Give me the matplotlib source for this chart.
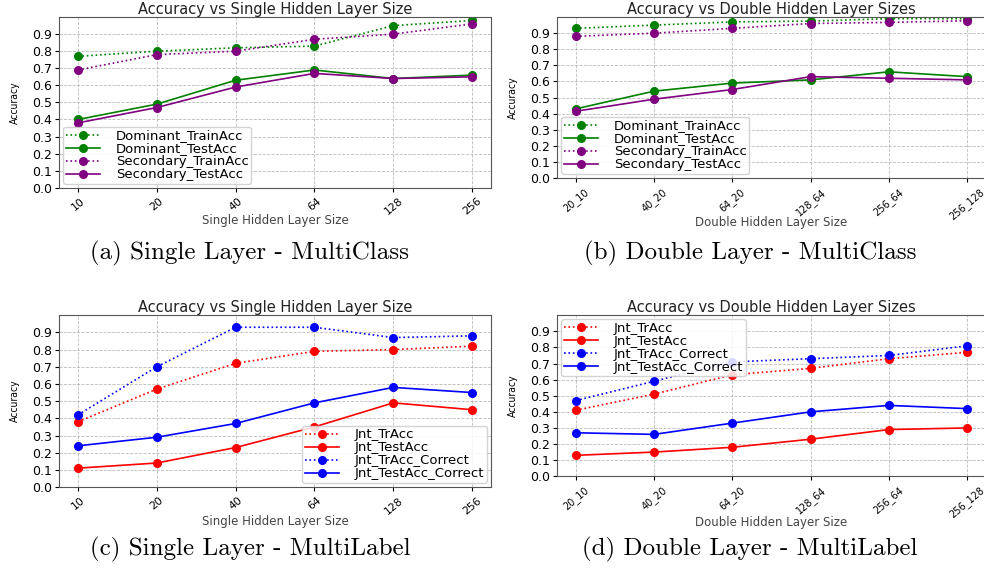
import matplotlib
matplotlib.use("Agg")
import matplotlib.pyplot as plt

# Tamanhos das camadas ocultas
single_sizes = ["10", "20", "40", "64", "128", "256"]
double_sizes = ["20_10", "40_20", "64_20", "128_64", "256_64", "256_128"]

# MultiClass - camada única
sc_dom_train = [0.77, 0.80, 0.82, 0.83, 0.95, 0.98]
sc_dom_test = [0.40, 0.49, 0.63, 0.69, 0.64, 0.66]
sc_sec_train = [0.69, 0.78, 0.80, 0.87, 0.90, 0.96]
sc_sec_test = [0.38, 0.47, 0.59, 0.67, 0.64, 0.65]

# MultiClass - camada dupla
dc_dom_train = [0.93, 0.95, 0.97, 0.975, 0.99, 0.99]
dc_dom_test = [0.43, 0.54, 0.59, 0.61, 0.66, 0.63]
dc_sec_train = [0.88, 0.90, 0.93, 0.96, 0.967, 0.977]
dc_sec_test = [0.415, 0.49, 0.55, 0.63, 0.62, 0.61]

# MultiLabel - camada única
sl_tr = [0.38, 0.57, 0.72, 0.79, 0.80, 0.82]
sl_test = [0.11, 0.14, 0.23, 0.35, 0.49, 0.45]
sl_tr_corr = [0.42, 0.70, 0.93, 0.93, 0.87, 0.88]
sl_test_corr = [0.24, 0.29, 0.37, 0.49, 0.58, 0.55]

# MultiLabel - camada dupla
dl_tr = [0.41, 0.51, 0.63, 0.67, 0.73, 0.77]
dl_test = [0.13, 0.15, 0.18, 0.23, 0.29, 0.30]
dl_tr_corr = [0.47, 0.59, 0.71, 0.73, 0.75, 0.81]
dl_test_corr = [0.27, 0.26, 0.33, 0.40, 0.44, 0.42]


def desenhar(ax, rotulos, series, titulo, rotulo_x, loc_legenda, pos_xlabel,
             fs_xticks):
    x = range(len(rotulos))
    for nome, valores, cor, estilo in series:
        ax.plot(x, valores, linestyle=estilo, marker="o", color=cor,
                markersize=5.5, linewidth=1.2, label=nome)
    ax.set_xticks(list(x))
    ax.set_xticklabels(rotulos, rotation=40, fontsize=fs_xticks)
    ax.set_yticks([i / 10 for i in range(10)])
    ax.set_yticklabels([f"{i / 10:.1f}" for i in range(10)], fontsize=9)
    ax.set_ylim(0, 1.0)
    ax.set_xlim(-0.24, 5.24)
    ax.set_title(titulo, fontsize=10.5, pad=2, color="#222222")
    ax.set_xlabel(rotulo_x, fontsize=8.5, color="#444444")
    ax.xaxis.set_label_coords(0.5, pos_xlabel)
    ax.set_ylabel("Accuracy", fontsize=7.5, fontstretch="condensed")
    ax.yaxis.set_label_coords(-0.09, 0.5)
    ax.grid(True, linestyle="--", linewidth=0.6, color="#aaaaaa", alpha=0.8)
    ax.tick_params(length=3, pad=2)
    ax.tick_params(axis="x", pad=3)
    for spine in ax.spines.values():
        spine.set_color("#555555")
    ax.legend(loc=loc_legenda, fontsize=9.5, handlelength=2.6,
              borderpad=0.2, labelspacing=0.0, handletextpad=1.2,
              borderaxespad=0.3, framealpha=0.85)


fig = plt.figure(figsize=(9.84, 5.69), dpi=100)

ax_a = fig.add_axes([0.060, 0.670, 0.439, 0.300])
ax_b = fig.add_axes([0.566, 0.687, 0.436, 0.283])
ax_c = fig.add_axes([0.060, 0.144, 0.439, 0.302])
ax_d = fig.add_axes([0.566, 0.163, 0.436, 0.283])

desenhar(ax_a, single_sizes, [
    ("Dominant_TrainAcc", sc_dom_train, "green", ":"),
    ("Dominant_TestAcc", sc_dom_test, "green", "-"),
    ("Secondary_TrainAcc", sc_sec_train, "purple", ":"),
    ("Secondary_TestAcc", sc_sec_test, "purple", "-"),
], "Accuracy vs Single Hidden Layer Size", "Single Hidden Layer Size",
    "lower left", -0.155, 7.8)

desenhar(ax_b, double_sizes, [
    ("Dominant_TrainAcc", dc_dom_train, "green", ":"),
    ("Dominant_TestAcc", dc_dom_test, "green", "-"),
    ("Secondary_TrainAcc", dc_sec_train, "purple", ":"),
    ("Secondary_TestAcc", dc_sec_test, "purple", "-"),
], "Accuracy vs Double Hidden Layer Sizes", "Double Hidden Layer Size",
    "lower left", -0.235, 7)

desenhar(ax_c, single_sizes, [
    ("Jnt_TrAcc", sl_tr, "red", ":"),
    ("Jnt_TestAcc", sl_test, "red", "-"),
    ("Jnt_TrAcc_Correct", sl_tr_corr, "blue", ":"),
    ("Jnt_TestAcc_Correct", sl_test_corr, "blue", "-"),
], "Accuracy vs Single Hidden Layer Size", "Single Hidden Layer Size",
    "lower right", -0.16, 7.8)

desenhar(ax_d, double_sizes, [
    ("Jnt_TrAcc", dl_tr, "red", ":"),
    ("Jnt_TestAcc", dl_test, "red", "-"),
    ("Jnt_TrAcc_Correct", dl_tr_corr, "blue", ":"),
    ("Jnt_TestAcc_Correct", dl_test_corr, "blue", "-"),
], "Accuracy vs Double Hidden Layer Sizes", "Double Hidden Layer Size",
    "upper left", -0.245, 7)

# Legendas das subfiguras
legendas = [
    (0.254, 1 - 253 / 569, "(a) Single Layer - MultiClass"),
    (0.762, 1 - 253 / 569, "(b) Double Layer - MultiClass"),
    (0.254, 1 - 549 / 569, "(c) Single Layer - MultiLabel"),
    (0.762, 1 - 549 / 569, "(d) Double Layer - MultiLabel"),
]
for x, y, texto in legendas:
    fig.text(x, y, texto, ha="center", va="center", family="cmr10", fontsize=18)

fig.savefig("out.png", dpi=100)
